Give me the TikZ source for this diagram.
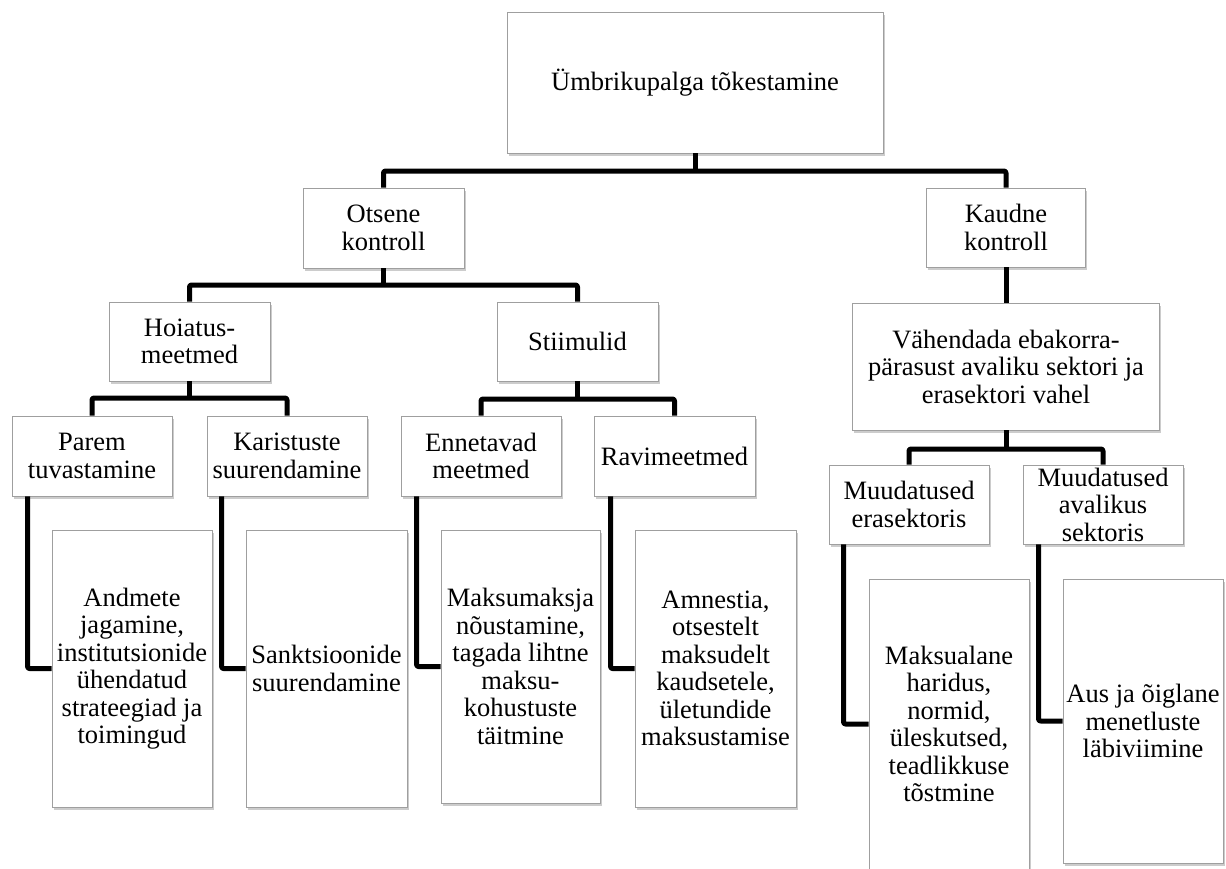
\documentclass[tikz,border=0pt]{standalone}
\usepackage{fontspec}
\setmainfont{Liberation Serif}
\usetikzlibrary{shadows}

\tikzset{
  topic/.style={draw=gray!75, line width=0.9pt, fill=white, align=center, inner sep=0pt,
    font=\fontsize{26.5}{27.5}\selectfont,
    drop shadow={shadow xshift=1.5pt, shadow yshift=-3pt, opacity=0.4}},
  link/.style={line width=5pt, line join=round, rounded corners=2pt}
}

\begin{document}
\begin{tikzpicture}[x=1pt, y=-1pt]
    \useasboundingbox (0,0) rectangle (1226,868);

    \node[topic, minimum width=376pt, minimum height=141pt] (root) at (695, 82.5) {Ümbrikupalga tõkestamine};
    \node[topic, minimum width=161pt, minimum height=80pt] (otsene) at (383.5, 228) {Otsene\\kontroll};
    \node[topic, minimum width=159pt, minimum height=79pt] (kaudne) at (1006, 227.5) {Kaudne\\kontroll};
    \node[topic, minimum width=161pt, minimum height=79pt] (hoiatus) at (189.5, 341.5) {Hoiatus-\\meetmed};
    \node[topic, minimum width=161pt, minimum height=79pt] (stiimulid) at (577.5, 341.5) {Stiimulid};
    \node[topic, minimum width=307pt, minimum height=127pt] (vahendada) at (1006, 366.5) {Vähendada ebakorra-\\pärasust avaliku sektori ja\\erasektori vahel};

    \node[topic, minimum width=160pt, minimum height=80pt] (parem) at (92, 456) {Parem\\tuvastamine};
    \node[topic, minimum width=160pt, minimum height=80pt] (karistuste) at (287, 456) {Karistuste\\suurendamine};
    \node[topic, minimum width=160pt, minimum height=80pt] (ennetavad) at (481, 456) {Ennetavad\\meetmed};
    \node[topic, minimum width=161pt, minimum height=80pt] (ravim) at (674.5, 456) {Ravimeetmed};
    \node[topic, minimum width=160pt, minimum height=79pt] (muudera) at (909, 504.5) {Muudatused\\erasektoris};
    \node[topic, minimum width=160pt, minimum height=79pt] (muudaval) at (1103, 504.5) {Muudatused\\avalikus\\sektoris};

    \node[topic, minimum width=160pt, minimum height=277pt] (andmete) at (132, 668.5) {Andmete\\jagamine,\\institutsionide\\ühendatud\\strateegiad ja\\toimingud};
    \node[topic, minimum width=161pt, minimum height=277pt] (sanktsioonid) at (326.5, 668.5) {Sanktsioonide\\suurendamine};
    \node[topic, minimum width=159pt, minimum height=273pt] (maksumaksja) at (520.5, 666.5) {Maksumaksja\\nõustamine,\\tagada lihtne\\maksu-\\kohustuste\\täitmine};
    \node[topic, minimum width=161pt, minimum height=277pt] (amnestia) at (715.5, 668.5) {Amnestia,\\otsestelt\\maksudelt\\kaudsetele,\\ületundide\\maksustamise};
    \node[topic, minimum width=160pt, minimum height=290pt] (maksualane) at (949, 724) {Maksualane\\haridus,\\normid,\\üleskutsed,\\teadlikkuse\\tõstmine};
    \node[topic, minimum width=160pt, minimum height=284pt] (aus) at (1143, 721) {Aus ja õiglane\\menetluste\\läbiviimine};

    % branch points
    \coordinate (j0) at (695, 171);
    \coordinate (j1) at (383.5, 285);
    \coordinate (j2) at (189.5, 398);
    \coordinate (j3) at (577.5, 399);
    \coordinate (j4) at (1006, 449);

    \draw[link] (root.south) -- (j0);
    \draw[link] (otsene.north) |- (j0) -| (kaudne.north);
    \draw[link] (otsene.south) -- (j1);
    \draw[link] (hoiatus.north) |- (j1) -| (stiimulid.north);
    \draw[link] (hoiatus.south) -- (j2);
    \draw[link] (parem.north) |- (j2) -| (karistuste.north);
    \draw[link] (stiimulid.south) -- (j3);
    \draw[link] (ennetavad.north) |- (j3) -| (ravim.north);
    \draw[link] (kaudne.south) -- (vahendada.north);
    \draw[link] (vahendada.south) -- (j4);
    \draw[link] (muudera.north) |- (j4) -| (muudaval.north);

    % elbows to the tall boxes
    \draw[link] ([xshift=16pt]parem.south west) |- (andmete.west);
    \draw[link] ([xshift=15pt]karistuste.south west) |- (sanktsioonid.west);
    \draw[link] ([xshift=16pt]ennetavad.south west) |- (maksumaksja.west);
    \draw[link] ([xshift=17pt]ravim.south west) |- (amnestia.west);
    \draw[link] ([xshift=15pt]muudera.south west) |- (maksualane.west);
    \draw[link] ([xshift=16pt]muudaval.south west) |- (aus.west);
\end{tikzpicture}
\end{document}
